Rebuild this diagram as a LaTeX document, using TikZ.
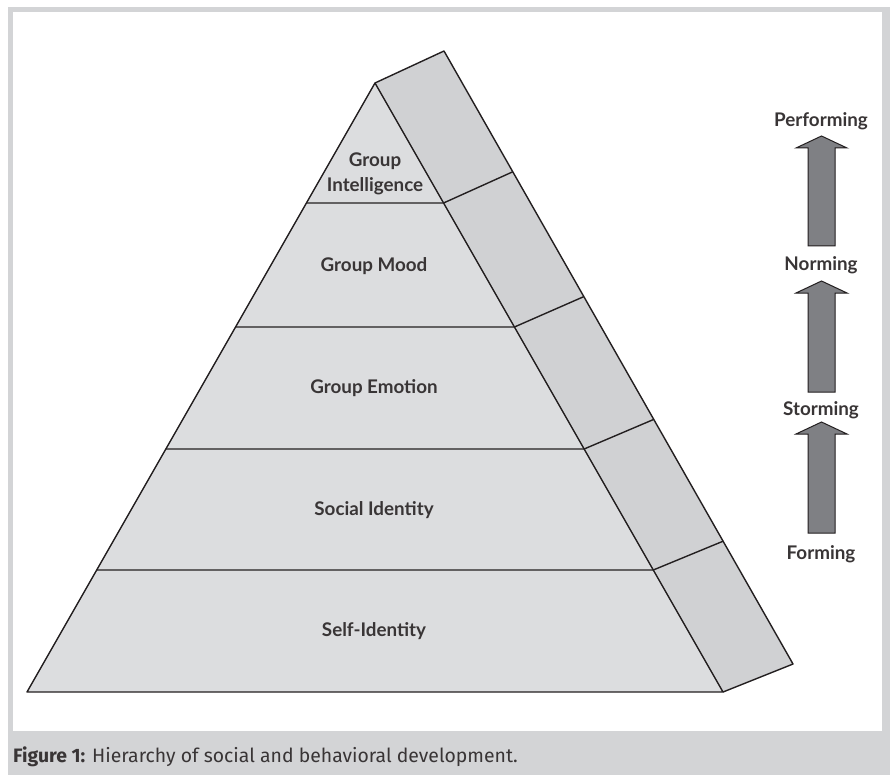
\documentclass[tikz,border=0pt]{standalone}
\usepackage{fontspec}
\usetikzlibrary{calc}
\newfontfamily\lblfont{Lato}
\newfontfamily\capfont{Fira Sans}
\definecolor{framegray}{HTML}{D3D4D6}
\definecolor{frontgray}{HTML}{DCDDDF}
\definecolor{sidegray}{HTML}{D0D1D3}
\definecolor{arrowgray}{HTML}{7F8084}
\definecolor{ink}{HTML}{231F20}
\begin{document}
\begin{tikzpicture}[x=1pt,y=-1pt,
  edge/.style={draw=ink,line width=1.4pt,line join=round},
  lvl/.style={font=\lblfont\bfseries\fontsize{18.8}{22}\selectfont,text=ink!90,align=center,inner sep=0pt},
  stage/.style={font=\lblfont\bfseries\fontsize{18.8}{22}\selectfont,text=ink!90,inner sep=0pt},
  uparrow/.style={fill=arrowgray,draw=ink,line width=1pt,line join=miter}]
\useasboundingbox (0,0) rectangle (890,775);
% frame and caption bar
\fill[framegray] (8,7) rectangle (890,775);
\fill[white] (13,12) rectangle (882,731);
\node[anchor=west,inner sep=0pt,font=\capfont\fontsize{19.4}{22}\selectfont,text=ink!90] (cap) at (13,757)
  {\textbf{Figure 1:} Hierarchy of social and behavioral development.};

% pyramid corners
\coordinate (A) at (375,83);
\coordinate (BL) at (27,692);
\coordinate (BR) at (723,692);
\coordinate (A2) at (444,51);
\coordinate (BR2) at (793,664);
% level boundaries on the front face and along the back edge
\foreach \t [count=\i] in {0.19704,0.40066,0.60099,0.79967}{
  \coordinate (L\i) at ($(A)!\t!(BL)$);
  \coordinate (R\i) at ($(A)!\t!(BR)$);
  \coordinate (S\i) at ($(A2)!\t!(BR2)$);
}
% faces
\fill[frontgray] (A) -- (BR) -- (BL) -- cycle;
\fill[sidegray] (A) -- (A2) -- (BR2) -- (BR) -- cycle;
% level lines
\foreach \i in {1,...,4}{
  \draw[edge] (L\i) -- (R\i) -- (S\i);
}
\draw[edge] (BL) -- (A) -- (BR) -- cycle;
\draw[edge] (A) -- (A2) -- (BR2) -- (BR);

% level labels
\node[lvl] (gi) at (375,174) {Group\\[3pt]Intelligence};
\node[lvl] (gm) at (374,266) {Group Mood};
\node[lvl] (ge) at (374,388) {Group Emotion};
\node[lvl] (si) at (374,510) {Social Identity};
\node[lvl] (self) at (374,631) {Self-Identity};

% stage labels
\node[stage] (perf) at (821,121) {Performing};
\node[stage] (norm) at (821,265) {Norming};
\node[stage] (storm) at (821,410) {Storming};
\node[stage] (form) at (821,554) {Forming};

% stage arrows
\foreach \tip/\base/\bot in {136/148/246, 281/293/392, 422/434/533}{
  \draw[uparrow] (821.5,\tip) -- (847,\base) -- (835,\base) -- (835,\bot)
    -- (808,\bot) -- (808,\base) -- (796,\base) -- cycle;
}
\end{tikzpicture}
\end{document}
